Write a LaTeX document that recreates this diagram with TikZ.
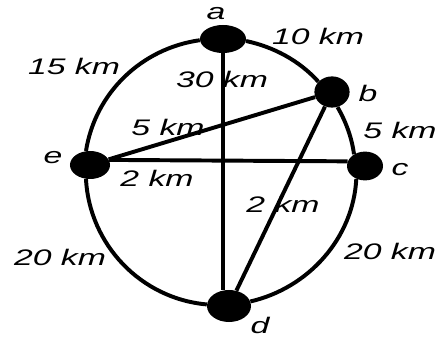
\documentclass[tikz,border=0pt]{standalone}
\usepackage{fontspec}
\setmainfont{Liberation Sans}
\usetikzlibrary{shapes.geometric}

\begin{document}
\begin{tikzpicture}[x=0.025cm,y=0.025cm,
  vertex/.style={ellipse,fill=black,inner sep=0pt,minimum width=1.15cm,minimum height=0.7cm},
  road/.style={draw,line width=2.8pt},
  lbl/.style={font=\fontsize{16}{18}\selectfont\itshape,xscale=1.5,inner sep=0pt}]
\useasboundingbox (0,0) rectangle (440,340);
% towns
\node[vertex] (a) at (223,301) {};
\node[vertex,minimum width=0.88cm,minimum height=0.78cm] (b) at (332,248) {};
\node[vertex,minimum width=0.9cm,minimum height=0.72cm] (c) at (365,174) {};
\node[vertex,minimum width=1.1cm,minimum height=0.8cm] (d) at (229,34) {};
\node[vertex,minimum width=1.0cm,minimum height=0.7cm] (e) at (90,175) {};
% outer ring
\draw[road] (a.-5) to[out=-12,in=132,looseness=0.87] (b.143);
\draw[road] (b.-70) to[out=-60,in=98,looseness=0.87] (c.133);
\draw[road] (c.236) to[out=-93,in=13,looseness=0.94] (d.12);
\draw[road] (d.176) to[out=175,in=-87,looseness=0.97] (e.254);
\draw[road] (e.106) to[out=81,in=188,looseness=0.95] (a.183);
% roads inside
\draw[road] (a.south) -- (a.south |- d.north);
\draw[road] (e.15) -- (c.165);
\draw[road] (e) -- (b);
\draw[road] (b) -- (d);
% names
\node[lbl] (la) at (216,326) {a};
\node[lbl] (lb) at (368,247) {b};
\node[lbl] (lc) at (400,170) {c};
\node[lbl] (ld) at (260,15) {d};
\node[lbl] (le) at (53,182) {e};
% distances
\node[lbl] (ab) at (318,304) {10 km};
\node[lbl] (ea) at (74,274) {15 km};
\node[lbl] (ad) at (222,261) {30 km};
\node[lbl] (eb) at (168,213) {5 km};
\node[lbl] (bc) at (400,210) {5 km};
\node[lbl] (ec) at (157,162) {2 km};
\node[lbl] (bd) at (283,136) {2 km};
\node[lbl] (cd) at (390,89) {20 km};
\node[lbl] (de) at (60,83) {20 km};
\end{tikzpicture}
\end{document}
